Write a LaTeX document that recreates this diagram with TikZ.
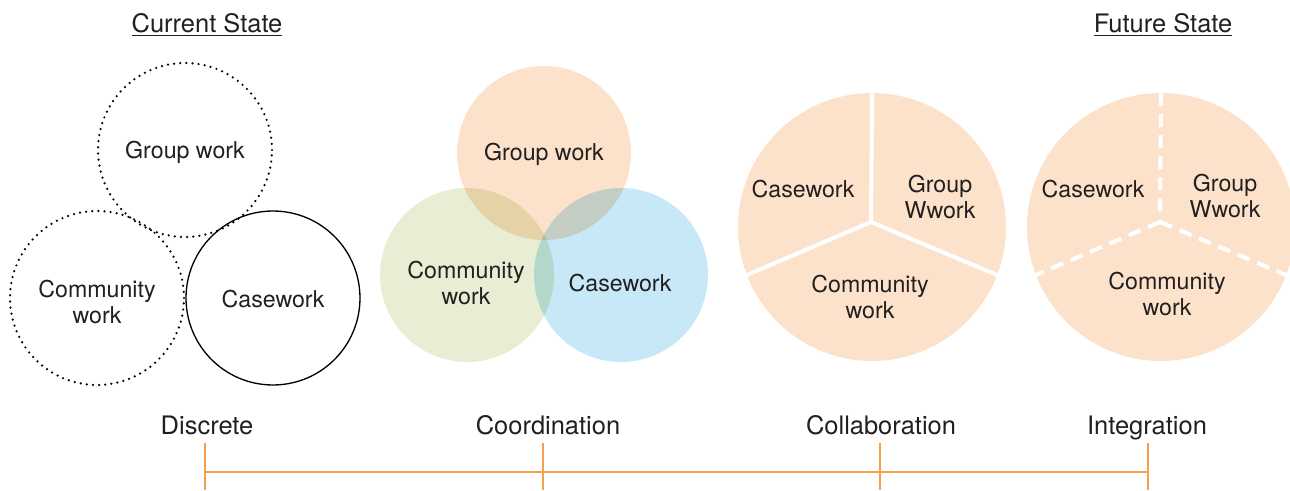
\documentclass[tikz,border=0pt]{standalone}
\usepackage{fontspec}
\setmainfont{TeX Gyre Heros}
\definecolor{txt}{HTML}{231F20}
\definecolor{peach}{HTML}{FCE2CA}
\definecolor{sage}{HTML}{E8EDD3}
\definecolor{sky}{HTML}{C6E8F7}
\definecolor{tl}{HTML}{F7A04A}
\begin{document}
\begin{tikzpicture}[x=0.02cm,y=-0.02cm,
  lbl/.style={font=\fontsize{13.2}{15}\selectfont, text=txt, align=center, inner sep=0pt},
  big/.style={font=\fontsize{14.5}{16}\selectfont, text=txt, inner sep=0pt, anchor=base},
  ring/.style={circle, minimum size=3.48cm, inner sep=0pt, outer sep=0pt},
  dotring/.style={ring, draw=black, line width=1.4pt, line cap=round, dash pattern=on 0pt off 3.5pt},
  solidring/.style={ring, draw=black, line width=0.75pt},
  venn/.style={ring, fill=#1, blend mode=multiply},
  pie/.style={circle, minimum size=5.36cm, inner sep=0pt, outer sep=0pt, fill=peach},
  divider/.style={draw=white, line width=2.3pt},
  dashdiv/.style={draw=white, line width=2.3pt, dash pattern=on 7.4pt off 4.6pt},
  tick/.style={draw=tl, line width=0.8pt}]
\useasboundingbox (0,0) rectangle (1290,490);

% titles
\node[big] (cur) at (207,32) {\underline{Current State}};
\node[big] (fut) at (1163,32) {\underline{Future State}};

% Current state: discrete circles
\node[dotring] (dg) at (185,150) {};
\node[dotring] (dc) at (97,298) {};
\node[solidring] (dk) at (273,298) {};
\node[lbl] (dgl) at (185,152) {Group work};
\node[lbl] (dcl) at (97,302) {Community\\work};
\node[lbl] (dkl) at (273,299) {Casework};

% Coordination: overlapping coloured circles
\node[venn=peach] (cg) at (544,153) {};
\node[venn=sage] (cc) at (467,275) {};
\node[venn=sky] (ck) at (621,275) {};
\node[lbl] (cgl) at (544,154) {Group work};
\node[lbl] (ccl) at (466,283) {Community\\work};
\node[lbl] (ckl) at (620,283) {Casework};

% Collaboration: pie with solid dividers
\node[pie] (pa) at (872,227) {};
\coordinate (ha) at (871,222);
\draw[divider] (pa.north) -- (ha);
\draw[divider, shorten >=-3pt] (ha) -- (pa.201);
\draw[divider, shorten >=-3pt] (ha) -- (pa.339);
\node[lbl] (pak) at (803,189) {Casework};
\node[lbl] (pag) at (940,197) {Group\\Wwork};
\node[lbl] (pac) at (870,297) {Community\\work};

% Integration: pie with dashed dividers
\node[pie] (pb) at (1161,227) {};
\coordinate (hb) at (1160,222);
\draw[dashdiv] (pb.north) -- (hb);
\draw[dashdiv, shorten >=-3pt] (hb) -- (pb.201);
\draw[dashdiv, shorten >=-3pt] (hb) -- (pb.339);
\node[lbl] (pbk) at (1093,189) {Casework};
\node[lbl] (pbg) at (1225,196) {Group\\Wwork};
\node[lbl] (pbc) at (1167,294) {Community\\work};

% stage labels
\node[big] (s1) at (207,434) {Discrete};
\node[big] (s2) at (548,434) {Coordination};
\node[big] (s3) at (881,434) {Collaboration};
\node[big] (s4) at (1147,434) {Integration};

% timeline
\coordinate (a1) at (205,443); \coordinate (b1) at (205,490); \coordinate (m1) at (205,472);
\coordinate (a2) at (543,443); \coordinate (b2) at (543,490);
\coordinate (a3) at (880,443); \coordinate (b3) at (880,490);
\coordinate (a4) at (1148,443); \coordinate (b4) at (1148,490); \coordinate (m4) at (1148,472);
\draw[tick] (m1) -- (m4);
\draw[tick] (a1) -- (b1);
\draw[tick] (a2) -- (b2);
\draw[tick] (a3) -- (b3);
\draw[tick] (a4) -- (b4);
\end{tikzpicture}
\end{document}
